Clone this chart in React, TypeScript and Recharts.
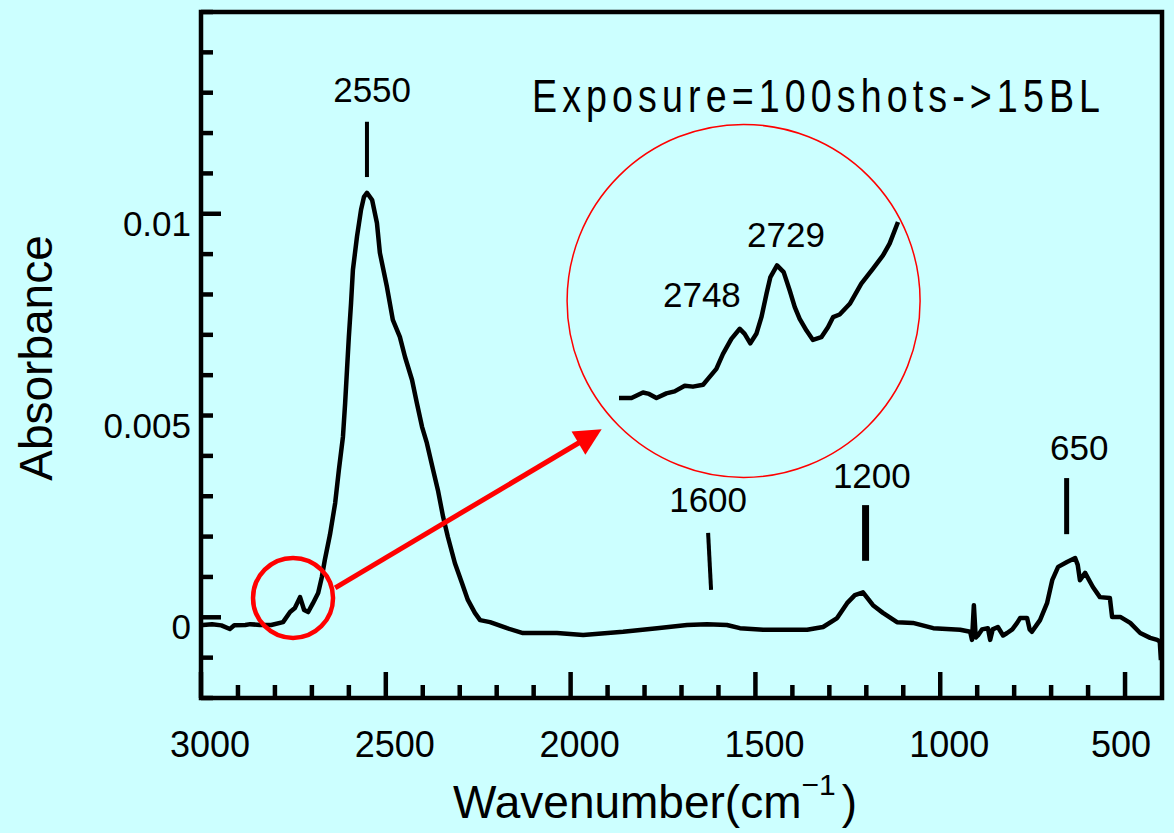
import React from 'react';
import { LineChart, Line, XAxis, YAxis, ReferenceLine, ReferenceDot, ReferenceArea } from 'recharts';

const FONT = '"Liberation Sans", Arial, Helvetica, sans-serif';
const BG = '#ccffff';
const RED = '#ff0000';

// ---- main spectrum (wavenumber cm-1, absorbance) ----
const wavenumbers = [
  2995, 2970, 2945, 2922, 2910, 2880, 2867, 2840, 2810, 2778, 2759, 2746, 2732, 2721, 2710, 2697, 2683, 2673,
  2665, 2651, 2637, 2627, 2616, 2610, 2605, 2600, 2594, 2589, 2578, 2567, 2559, 2551, 2537, 2524, 2516, 2497,
  2481, 2462, 2448, 2429, 2416, 2402, 2389, 2372, 2359, 2345, 2332, 2313, 2294, 2278, 2259, 2245, 2218, 2172,
  2129, 2037, 1966, 1858, 1766, 1685, 1631, 1577, 1542, 1479, 1360, 1317, 1279, 1252, 1231, 1209, 1182, 1155,
  1117, 1074, 1019, 946, 919, 914, 909, 904, 898, 887, 871, 865, 858, 844, 830, 819, 805, 792, 784, 765, 758,
  752, 740, 730, 711, 697, 681, 657, 635, 628, 622, 608, 587, 568, 541, 535, 513, 486, 459, 432, 413, 406, 403,
];
const absorbance = [
  -0.00019, -0.00017, -0.0002, -0.00029, -0.0002, -0.00019, -0.00017, -0.00019, -0.00019, -0.00012, 0.00013,
  0.00023, 0.0005, 0.00018, 0.00013, 0.00035, 0.0006, 0.001, 0.00142, 0.00205, 0.00283, 0.00365, 0.00447,
  0.00531, 0.00613, 0.00695, 0.00779, 0.00861, 0.00943, 0.0101, 0.01042, 0.01052, 0.01034, 0.00977, 0.00903,
  0.00819, 0.00737, 0.00695, 0.00645, 0.00588, 0.00531, 0.00472, 0.00432, 0.00365, 0.00315, 0.00249, 0.00199,
  0.00134, 0.00085, 0.00043, 0.00011, -0.00007, -0.00012, -0.00027, -0.00039, -0.00039, -0.00044, -0.00036,
  -0.00027, -0.00019, -0.00017, -0.00019, -0.00027, -0.00031, -0.00031, -0.00024, -0.00002, 0.00035, 0.00055,
  0.00062, 0.0003, 0.00011, -0.00012, -0.00014, -0.00027, -0.00031, -0.00036, -0.00056, 0.0003, -0.0005,
  -0.00045, -0.0003, -0.00027, -0.00056, -0.0003, -0.00024, -0.00045, -0.00039, -0.0003, -0.00014, -0.00002,
  -0.00002, -0.0003, -0.00036, -0.0002, -0.00007, 0.00035, 0.00092, 0.00125, 0.00137, 0.00147, 0.0013, 0.00092,
  0.0011, 0.00075, 0.0005, 0.00048, 0.00001, 0.00001, -0.00014, -0.00039, -0.00051, -0.00056, -0.0006, -0.00106,
];

// ---- magnified inset (2810 - 2667 cm-1) ----
const insetWavenumbers = [
  2810, 2803.6, 2797.7, 2794.6, 2790.8, 2785.7, 2781.5, 2776.3, 2772.1, 2766.9, 2764.4, 2760.1, 2756.7, 2752.4,
  2748.1, 2745.6, 2742.7, 2739.6, 2737, 2734.4, 2732.4, 2729, 2725.6, 2722.5, 2719.9, 2717.4, 2713.9, 2710.6,
  2706.3, 2702.9, 2700.3, 2696.9, 2691.7, 2685.8, 2679.8, 2674.7, 2671.3, 2667,
];
const insetAbsorbance = [
  -0.0002, -0.0002, -0.000159, -0.00017, -0.0002, -0.000166, -0.000151, -0.000109, -0.000116, -0.000102,
  -0.000059, 0.000015, 0.000126, 0.000237, 0.000311, 0.000274, 0.000204, 0.000274, 0.000397, 0.00057,
  0.000693, 0.000779, 0.00073, 0.000594, 0.000471, 0.000385, 0.000298, 0.000229, 0.000249, 0.000323,
  0.000397, 0.000417, 0.000496, 0.000644, 0.000755, 0.000853, 0.00094, 0.0011,
];

// ---- axes ----
const xTicks = [3000, 2900, 2800, 2700, 2600, 2500, 2400, 2300, 2200, 2100, 2000, 1900, 1800, 1700, 1600, 1500,
  1400, 1300, 1200, 1100, 1000, 900, 800, 700, 600, 500];
const xLabelValues = [3000, 2500, 2000, 1500, 1000, 500];
const xLabelTexts = ['3000', '2500', '2000', '1500', '1000', '500'];
const yTicks = [-0.002, -0.001, 0, 0.001, 0.002, 0.003, 0.004, 0.005, 0.006, 0.007, 0.008, 0.009, 0.01, 0.011,
  0.012, 0.013, 0.014, 0.015];
const yLabelValues = [0, 0.005, 0.01];
const yLabelTexts = ['0', '0.005', '0.01'];
const yLongTicks = [0, 0.01];

// ---- annotations ----
const peakLabels = ['2550', '1600', '1200', '650'];
const peakLabelX = [2537, 1628, 1185, 624];
const peakLabelY = [0.01277, 0.00261, 0.0032, 0.0039];
const markerX1 = [2551, 1628, 1202, 658];
const markerY1 = [0.01228, 0.00209, 0.00278, 0.00345];
const markerX2 = [2551, 1620, 1202, 658];
const markerY2 = [0.01091, 0.00068, 0.0014, 0.00206];
const markerWidth = [4, 4, 7, 5];
const insetLabels = ['2729', '2748'];
const insetLabelX = [2724.4, 2767.5];
const insetLabelY = [0.000915, 0.000472];

const data = wavenumbers.map((wn, i) => ({ wn, a: absorbance[i] }));
const insetData = insetWavenumbers.map((wn, i) => ({ wn, a: insetAbsorbance[i] }));

const near = (a: number, b: number) => Math.abs(a - b) < 1e-9;

const renderXTick = (props: any) => {
  const { x, y, payload } = props;
  const v = payload.value;
  const idx = xLabelValues.indexOf(v);
  const len = idx >= 0 ? 26 : 13;
  return (
    <g>
      <line x1={x} y1={y} x2={x} y2={y - len} stroke="#000" strokeWidth={4.5} />
      {idx >= 0 && (
        <text x={x + (v === 500 ? -4 : 9)} y={y + 59} textAnchor="middle" fontSize={36} fontFamily={FONT} fill="#000">
          {xLabelTexts[idx]}
        </text>
      )}
    </g>
  );
};

const renderYTick = (props: any) => {
  const { x, y, payload } = props;
  const v = payload.value;
  const idx = yLabelValues.findIndex((t) => near(t, v));
  const long = yLongTicks.some((t) => near(t, v));
  return (
    <g>
      <line x1={x} y1={y} x2={x + (long ? 20 : 12)} y2={y} stroke="#000" strokeWidth={4.5} />
      {idx >= 0 && (
        <text x={x - 10} y={y + 22} textAnchor="end" fontSize={35} fontFamily={FONT} fill="#000">
          {yLabelTexts[idx]}
        </text>
      )}
    </g>
  );
};

const textShape = (label: string, size: number) => (p: any) => (
  <text x={p.cx} y={p.cy} textAnchor="middle" fontSize={size} fontFamily={FONT} fill="#000">
    {label}
  </text>
);

const circleShape = (r: number, w: number) => (p: any) => (
  <circle cx={p.cx} cy={p.cy} r={r} fill="none" stroke={RED} strokeWidth={w} />
);

const segShape = (w: number) => (p: any) => (
  <line x1={p.x1} y1={p.y1} x2={p.x2} y2={p.y2} stroke="#000" strokeWidth={w} />
);

const arrowShape = (p: any) => {
  const dx = p.x2 - p.x1;
  const dy = p.y2 - p.y1;
  const len = Math.sqrt(dx * dx + dy * dy);
  const ux = dx / len;
  const uy = dy / len;
  const head = 27;
  const half = 13.5;
  const bx = p.x2 - ux * head;
  const by = p.y2 - uy * head;
  const pts = `${p.x2},${p.y2} ${bx - uy * half},${by + ux * half} ${bx + uy * half},${by - ux * half}`;
  return (
    <g>
      <line x1={p.x1} y1={p.y1} x2={bx + ux * 4} y2={by + uy * 4} stroke={RED} strokeWidth={5} />
      <polygon points={pts} fill={RED} />
    </g>
  );
};

export default function App() {
  return (
    <div style={{ position: 'absolute', left: 0, top: 0, width: 1174, height: 833, background: BG, overflow: 'hidden' }}>
      <div style={{ position: 'absolute', left: 0, top: 0 }}>
        <LineChart width={1174} height={833} data={data} margin={{ top: 12, right: 12, bottom: 0, left: 0 }}>
          <XAxis
            dataKey="wn"
            type="number"
            domain={[400, 3000]}
            reversed
            ticks={xTicks}
            interval={0}
            tickSize={0}
            tickMargin={0}
            tickLine={false}
            axisLine={false}
            tick={renderXTick}
            height={135}
          />
          <YAxis
            type="number"
            domain={[-0.002, 0.015]}
            ticks={yTicks}
            interval={0}
            tickSize={0}
            tickMargin={0}
            tickLine={false}
            axisLine={false}
            tick={renderYTick}
            width={201}
          />
          <ReferenceArea x1={3000} x2={400} y1={-0.002} y2={0.015} fill="none" stroke="#000" strokeWidth={4.5} ifOverflow="visible" />
          <Line
            dataKey="a"
            type="linear"
            stroke="#000"
            strokeWidth={4.5}
            strokeLinejoin="round"
            dot={false}
            isAnimationActive={false}
          />
          {peakLabels.map((l, i) => (
            <ReferenceDot key={'pl' + i} x={peakLabelX[i]} y={peakLabelY[i]} shape={textShape(l, 35)} />
          ))}
          {markerX1.map((x, i) => (
            <ReferenceLine
              key={'mk' + i}
              segment={[{ x, y: markerY1[i] }, { x: markerX2[i], y: markerY2[i] }]}
              shape={segShape(markerWidth[i])}
            />
          ))}
          <ReferenceDot x={2751} y={0.00048} shape={circleShape(40, 4.5)} />
          <ReferenceDot x={1532} y={0.00784} shape={circleShape(176.5, 1.5)} />
          <ReferenceLine segment={[{ x: 2637, y: 0.00073 }, { x: 1916, y: 0.00466 }]} shape={arrowShape} />
        </LineChart>
      </div>
      <div style={{ position: 'absolute', left: 609, top: 212 }}>
        <LineChart width={299} height={196} data={insetData} margin={{ top: 10, right: 10, bottom: 10, left: 10 }}>
          <XAxis hide dataKey="wn" type="number" domain={[2667, 2810]} reversed />
          <YAxis hide type="number" domain={[-0.0002, 0.0011]} />
          <Line
            dataKey="a"
            type="linear"
            stroke="#000"
            strokeWidth={4.5}
            strokeLinejoin="round"
            dot={false}
            isAnimationActive={false}
          />
          {insetLabels.map((l, i) => (
            <ReferenceDot key={'il' + i} x={insetLabelX[i]} y={insetLabelY[i]} shape={textShape(l, 35)} />
          ))}
        </LineChart>
      </div>
      <svg width={1174} height={833} style={{ position: 'absolute', left: 0, top: 0, pointerEvents: 'none' }}>
        <text
          x={0}
          y={0}
          transform="translate(532,112) scale(0.8,1)"
          textLength={568 / 0.8}
          lengthAdjust="spacing"
          fontSize={47}
          fontFamily={FONT}
          fill="#000"
        >
          {'Exposure=100shots->15BL'}
        </text>
        <text transform="translate(52,358) rotate(-90)" textAnchor="middle" fontSize={46} fontFamily={FONT} fill="#000">
          Absorbance
        </text>
        <text x={453} y={818} fontSize={46} fontFamily={FONT} fill="#000">
          Wavenumber(cm
          <tspan dy={-23} fontSize={30}>{'\u22121'}</tspan>
          <tspan dy={23} dx={6}>)</tspan>
        </text>
      </svg>
    </div>
  );
}
